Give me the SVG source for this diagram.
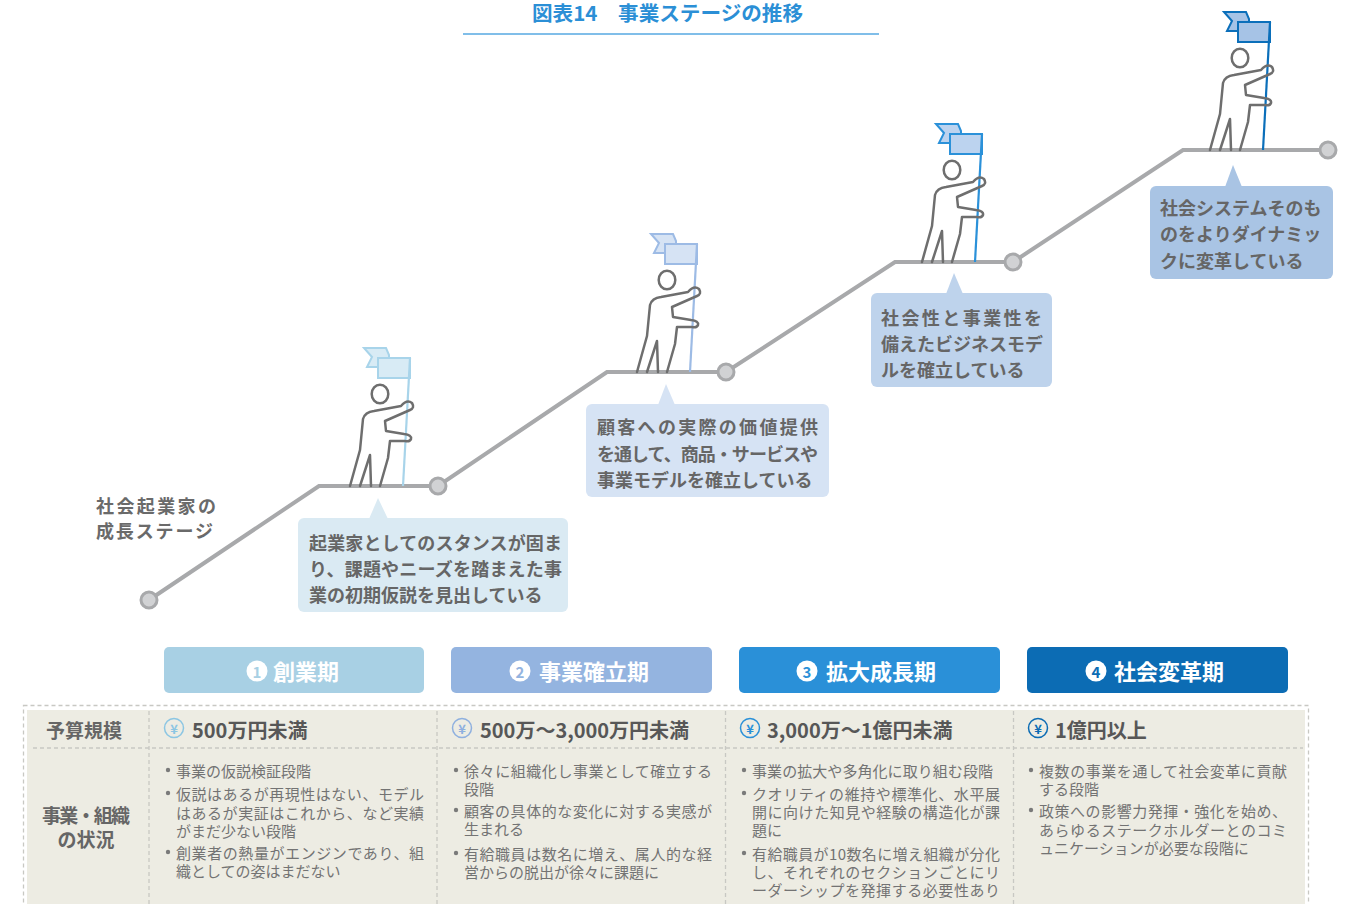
<svg xmlns="http://www.w3.org/2000/svg" xmlns:xlink="http://www.w3.org/1999/xlink" width="1349" height="904" viewBox="0 0 1349 904">
  <style>
    text { font-family: "Noto Sans CJK JP", "Noto Sans", sans-serif; dominant-baseline: central; }
    .title { font-size: 20px; font-weight: 700; fill: #2b8fd6; }
    .lbl { font-size: 18px; font-weight: 700; fill: #6a6a6a; }
    .call { font-size: 18px; font-weight: 700; fill: #666666; }
    .hdr { font-size: 22px; font-weight: 700; fill: #ffffff; }
    .num { font-size: 15px; font-weight: 700; text-anchor: middle; }
    .rowh { font-size: 19px; font-weight: 700; fill: #666666; text-anchor: middle; }
    .amt { font-size: 20px; font-weight: 700; fill: #575757; }
    .yen { font-size: 13px; font-weight: 700; text-anchor: middle; }
    .body { font-size: 15px; fill: #737373; }
    .dot { fill: #7a7a7a; }
    .stair { fill: none; stroke: #a8a9ab; stroke-width: 4; }
    .node { fill: #d1d2d4; stroke: #a8a9ab; stroke-width: 3; }
    .person { fill: none; stroke: #6e6e6e; stroke-width: 2.5; stroke-linejoin: round; stroke-linecap: round; }
    .dash { fill: none; stroke: #c8c8c3; stroke-width: 1.3; stroke-dasharray: 4 3; }
  </style>
  <defs>
    <!-- climber drawn with its flag-pole base at the origin -->
    <g id="climber">
      <ellipse class="person" cx="-23" cy="-92" rx="8.3" ry="9.3"/>
      <path class="person" d="M-53,0 L-43,-36 L-40,-67 Q-38,-74 -29,-75 L-2,-80 Q4,-87 9,-83 Q12,-78 7,-76 L-18,-65 L-17,-55 L1,-52 Q9,-51 8,-47 Q7,-44 2,-45 L-13,-45 L-15,-28 L-23,0 M-43,0 L-33,-31 L-32,0"/>
    </g>
  </defs>

  <!-- heading -->
  <g id="heading">
    <text class="title" x="532" y="12" textLength="271" lengthAdjust="spacingAndGlyphs">図表14　事業ステージの推移</text>
    <line x1="463" y1="34" x2="879" y2="34" stroke="#56a9e2" stroke-width="1.5"/>
  </g>

  <!-- staircase connectors -->
  <g id="connectors">
    <path class="stair" d="M149,600 L319,486 L438,486 L607,372 L726,372 L895,262 L1013,262 L1183,150 L1328,150"/>
  </g>

  <g id="stage-label">
    <text class="lbl" x="96" y="505" textLength="120">社会起業家の</text>
    <text class="lbl" x="96" y="530" textLength="117">成長ステージ</text>
  </g>

  <!-- climbers with flags -->
  <g id="climber1" transform="translate(403,486)">
    <polygon points="-39,-138 -17,-138 -14,-131 -14,-119 -36,-119 -31,-129" fill="#d8ebf5" stroke="#a8d4ea" stroke-width="2"/>
    <polygon points="-25,-128 7,-128 7,-108 -25,-108" fill="#d8ebf5" stroke="#a8d4ea" stroke-width="2"/>
    <line x1="0" y1="0" x2="7" y2="-128" stroke="#a8d4ea" stroke-width="2.2"/>
    <use href="#climber"/>
  </g>
  <g id="climber2" transform="translate(690,372)">
    <polygon points="-39,-138 -17,-138 -14,-131 -14,-119 -36,-119 -31,-129" fill="#d6e3f4" stroke="#9dbbe5" stroke-width="2"/>
    <polygon points="-25,-128 7,-128 7,-108 -25,-108" fill="#d6e3f4" stroke="#9dbbe5" stroke-width="2"/>
    <line x1="0" y1="0" x2="7" y2="-128" stroke="#9dbbe5" stroke-width="2.2"/>
    <use href="#climber"/>
  </g>
  <g id="climber3" transform="translate(975,262)">
    <polygon points="-39,-138 -17,-138 -14,-131 -14,-119 -36,-119 -31,-129" fill="#bcd3ef" stroke="#2b91d9" stroke-width="2"/>
    <polygon points="-25,-128 7,-128 7,-108 -25,-108" fill="#bcd3ef" stroke="#2b91d9" stroke-width="2"/>
    <line x1="0" y1="0" x2="7" y2="-128" stroke="#2b91d9" stroke-width="2.2"/>
    <use href="#climber"/>
  </g>
  <g id="climber4" transform="translate(1263,150)">
    <polygon points="-39,-138 -17,-138 -14,-131 -14,-119 -36,-119 -31,-129" fill="#a6c3e6" stroke="#0b6fba" stroke-width="2"/>
    <polygon points="-25,-128 7,-128 7,-108 -25,-108" fill="#a6c3e6" stroke="#0b6fba" stroke-width="2"/>
    <line x1="0" y1="0" x2="7" y2="-128" stroke="#0b6fba" stroke-width="2.2"/>
    <use href="#climber"/>
  </g>

  <!-- step nodes -->
  <g id="nodes">
    <circle class="node" cx="149" cy="600" r="8"/>
    <circle class="node" cx="438" cy="486" r="8"/>
    <circle class="node" cx="726" cy="372" r="8"/>
    <circle class="node" cx="1013" cy="262" r="8"/>
    <circle class="node" cx="1328" cy="150" r="8"/>
  </g>

  <!-- speech callouts -->
  <g id="callout1">
    <rect x="298" y="518" width="270" height="94" rx="6" fill="#daeaf3"/>
    <polygon points="369,519 378,498 388,519" fill="#daeaf3"/>
    <text class="call" x="309" y="542" textLength="253">起業家としてのスタンスが固ま</text>
    <text class="call" x="309" y="568" textLength="253">り、課題やニーズを踏まえた事</text>
    <text class="call" x="309" y="594">業の初期仮説を見出している</text>
  </g>
  <g id="callout2">
    <rect x="586" y="404" width="243" height="93" rx="6" fill="#d6e3f4"/>
    <polygon points="658,405 666,384 675,405" fill="#d6e3f4"/>
    <text class="call" x="597" y="426" textLength="221">顧客への実際の価値提供</text>
    <text class="call" x="597" y="453" textLength="221">を通して、商品・サービスや</text>
    <text class="call" x="597" y="479">事業モデルを確立している</text>
  </g>
  <g id="callout3">
    <rect x="871" y="293" width="181" height="94" rx="6" fill="#bed3ec"/>
    <polygon points="946,294 954,273 963,294" fill="#bed3ec"/>
    <text class="call" x="881" y="317" textLength="161">社会性と事業性を</text>
    <text class="call" x="881" y="343">備えたビジネスモデ</text>
    <text class="call" x="881" y="369">ルを確立している</text>
  </g>
  <g id="callout4">
    <rect x="1150" y="186" width="183" height="93" rx="6" fill="#a9c4e4"/>
    <polygon points="1225,187 1233,165 1242,187" fill="#a9c4e4"/>
    <text class="call" x="1160" y="207">社会システムそのも</text>
    <text class="call" x="1160" y="233">のをよりダイナミッ</text>
    <text class="call" x="1160" y="260">クに変革している</text>
  </g>

  <!-- stage headers -->
  <g id="stage1">
    <rect x="164" y="647" width="260" height="46" rx="5" fill="#a8d0e4"/>
    <circle cx="257" cy="671" r="10.5" fill="#ffffff"/>
    <text class="num" x="257" y="671" fill="#a8d0e4">1</text>
    <text class="hdr" x="273" y="670">創業期</text>
  </g>
  <g id="stage2">
    <rect x="451" y="647" width="261" height="46" rx="5" fill="#94b4e0"/>
    <circle cx="520" cy="671" r="10.5" fill="#ffffff"/>
    <text class="num" x="520" y="671" fill="#94b4e0">2</text>
    <text class="hdr" x="539" y="670">事業確立期</text>
  </g>
  <g id="stage3">
    <rect x="739" y="647" width="261" height="46" rx="5" fill="#2a90d8"/>
    <circle cx="807" cy="671" r="10.5" fill="#ffffff"/>
    <text class="num" x="807" y="671" fill="#2a90d8">3</text>
    <text class="hdr" x="826" y="670">拡大成長期</text>
  </g>
  <g id="stage4">
    <rect x="1027" y="647" width="261" height="46" rx="5" fill="#0c6cb4"/>
    <circle cx="1096" cy="671" r="10.5" fill="#ffffff"/>
    <text class="num" x="1096" y="671" fill="#0c6cb4">4</text>
    <text class="hdr" x="1114" y="670">社会変革期</text>
  </g>

  <!-- summary table -->
  <g id="table">
    <rect x="27" y="710" width="1278" height="200" fill="#edece3"/>
    <rect class="dash" x="23.5" y="705.5" width="1285" height="210"/>
    <line class="dash" x1="149" y1="711" x2="149" y2="904"/>
    <line class="dash" x1="437" y1="711" x2="437" y2="904"/>
    <line class="dash" x1="725.5" y1="711" x2="725.5" y2="904"/>
    <line class="dash" x1="1013.5" y1="711" x2="1013.5" y2="904"/>
    <line class="dash" x1="33" y1="748" x2="1303" y2="748"/>

    <text class="rowh" x="84" y="729">予算規模</text>
    <text class="rowh" x="42" y="814" style="text-anchor:start" textLength="88">事業・組織</text>
    <text class="rowh" x="86" y="838">の状況</text>
  </g>

  <g id="col1">
    <circle cx="174" cy="728" r="9.5" fill="none" stroke="#8cc6e3" stroke-width="1.5"/>
    <text class="yen" x="174" y="728" fill="#8cc6e3">¥</text>
    <text class="amt" x="192" y="729">500万円未満</text>
    <circle class="dot" cx="168" cy="770" r="2.2"/>
    <text class="body" x="176" y="770">事業の仮説検証段階</text>
    <circle class="dot" cx="168" cy="793" r="2.2"/>
    <text class="body" x="176" y="793" textLength="248">仮説はあるが再現性はない、モデル</text>
    <text class="body" x="176" y="812" textLength="248">はあるが実証はこれから、など実績</text>
    <text class="body" x="176" y="830">がまだ少ない段階</text>
    <circle class="dot" cx="168" cy="852" r="2.2"/>
    <text class="body" x="176" y="852" textLength="248">創業者の熱量がエンジンであり、組</text>
    <text class="body" x="176" y="870">織としての姿はまだない</text>
  </g>

  <g id="col2">
    <circle cx="462" cy="728" r="9.5" fill="none" stroke="#8fb0df" stroke-width="1.5"/>
    <text class="yen" x="462" y="728" fill="#8fb0df">¥</text>
    <text class="amt" x="480" y="729">500万～3,000万円未満</text>
    <circle class="dot" cx="456" cy="770" r="2.2"/>
    <text class="body" x="464" y="770" textLength="248">徐々に組織化し事業として確立する</text>
    <text class="body" x="464" y="788">段階</text>
    <circle class="dot" cx="456" cy="810" r="2.2"/>
    <text class="body" x="464" y="810" textLength="248">顧客の具体的な変化に対する実感が</text>
    <text class="body" x="464" y="828">生まれる</text>
    <circle class="dot" cx="456" cy="853" r="2.2"/>
    <text class="body" x="464" y="853" textLength="248">有給職員は数名に増え、属人的な経</text>
    <text class="body" x="464" y="871">営からの脱出が徐々に課題に</text>
  </g>

  <g id="col3">
    <circle cx="750" cy="728" r="9.5" fill="none" stroke="#2a90d8" stroke-width="1.5"/>
    <text class="yen" x="750" y="728" fill="#2a90d8">¥</text>
    <text class="amt" x="767" y="729">3,000万～1億円未満</text>
    <circle class="dot" cx="744" cy="770" r="2.2"/>
    <text class="body" x="752" y="770" textLength="241">事業の拡大や多角化に取り組む段階</text>
    <circle class="dot" cx="744" cy="793" r="2.2"/>
    <text class="body" x="752" y="793" textLength="248">クオリティの維持や標準化、水平展</text>
    <text class="body" x="752" y="811" textLength="248">開に向けた知見や経験の構造化が課</text>
    <text class="body" x="752" y="829">題に</text>
    <circle class="dot" cx="744" cy="853" r="2.2"/>
    <text class="body" x="752" y="853" textLength="248">有給職員が10数名に増え組織が分化</text>
    <text class="body" x="752" y="871" textLength="248">し、それぞれのセクションごとにリ</text>
    <text class="body" x="752" y="889" textLength="248">ーダーシップを発揮する必要性あり</text>
  </g>

  <g id="col4">
    <circle cx="1038" cy="728" r="9.5" fill="none" stroke="#0c6cb4" stroke-width="1.5"/>
    <text class="yen" x="1038" y="728" fill="#0c6cb4">¥</text>
    <text class="amt" x="1055" y="729">1億円以上</text>
    <circle class="dot" cx="1031" cy="770" r="2.2"/>
    <text class="body" x="1039" y="770" textLength="248">複数の事業を通して社会変革に貢献</text>
    <text class="body" x="1039" y="788">する段階</text>
    <circle class="dot" cx="1031" cy="810" r="2.2"/>
    <text class="body" x="1039" y="810" textLength="248">政策への影響力発揮・強化を始め、</text>
    <text class="body" x="1039" y="829" textLength="248">あらゆるステークホルダーとのコミ</text>
    <text class="body" x="1039" y="847">ュニケーションが必要な段階に</text>
  </g>
</svg>
